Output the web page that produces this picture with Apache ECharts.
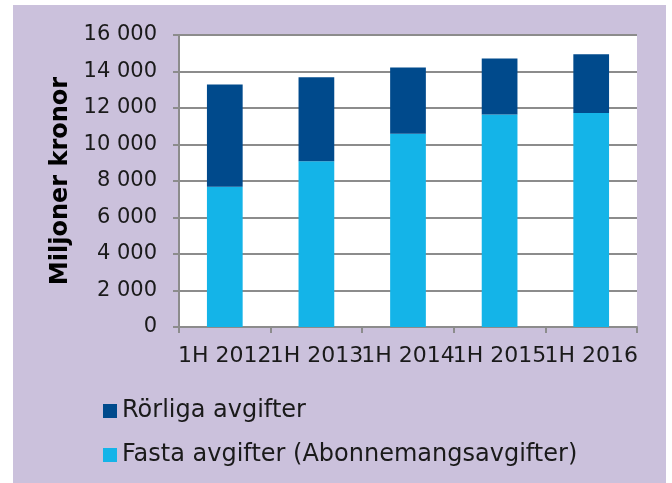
<!DOCTYPE html>
<html>
<head>
<meta charset="utf-8">
<script src="https://cdn.jsdelivr.net/npm/echarts@6/dist/echarts.min.js"></script>
<style>
  body { margin: 0; background: #fff; }
  #bg { position: absolute; left: 13px; top: 5px; width: 653px; height: 478px; background: #cbc1dc; }
  #main { position: absolute; left: 0; top: 0; width: 672px; height: 483px; }
</style>
</head>
<body>
<div id="bg"></div>
<div id="main"></div>
<script>
  var categories = ['1H 2012', '1H 2013', '1H 2014', '1H 2015', '1H 2016'];
  // Fasta avgifter (nedre delen av stapeln)
  var fasta = [7690, 9080, 10590, 11650, 11720];
  // Rörliga avgifter (övre delen)
  var rorliga = [5600, 4610, 3630, 3060, 3220];

  var myChart = echarts.init(document.getElementById('main'));
  var font = '"DejaVu Sans", sans-serif';

  option = {
      backgroundColor: 'transparent',
      animation: false,
      grid: {
          left: 179, right: 35, top: 35, bottom: 156,
          show: true,
          backgroundColor: '#fff',
          borderWidth: 0
      },
      legend: {
          orient: 'vertical',
          left: 98,
          top: 394,
          itemWidth: 14,
          itemHeight: 14,
          itemGap: 20,
          icon: 'rect',
          data: ['Rörliga avgifter', 'Fasta avgifter (Abonnemangsavgifter)'],
          textStyle: { color: '#1a1a1a', fontSize: 24, fontFamily: font, lineHeight: 24 }
      },
      xAxis: {
          type: 'category',
          data: categories,
          axisLine: { lineStyle: { color: '#8c8c8c', width: 2 } },
          axisTick: { show: true, length: 6, lineStyle: { color: '#8c8c8c', width: 2 } },
          axisLabel: { color: '#1a1a1a', fontSize: 22, fontFamily: font, margin: 18, interval: 0 }
      },
      yAxis: {
          type: 'value',
          min: 0, max: 16000, interval: 2000,
          name: 'Miljoner kronor',
          nameLocation: 'middle',
          nameGap: 102,
          nameTextStyle: { color: '#000', fontSize: 24, fontWeight: 'bold', fontFamily: font },
          axisLine: { show: true, lineStyle: { color: '#8c8c8c', width: 2 } },
          axisTick: { show: true, length: 6, lineStyle: { color: '#8c8c8c', width: 2 } },
          splitLine: { lineStyle: { color: '#8c8c8c', width: 2 } },
          axisLabel: {
              color: '#1a1a1a', fontSize: 21, fontFamily: font, margin: 22,
              formatter: function (v) { return String(v).replace(/\B(?=(\d{3})+(?!\d))/g, ' '); }
          }
      },
      series: [
          {
              name: 'Fasta avgifter (Abonnemangsavgifter)',
              type: 'bar',
              stack: 'tot',
              barWidth: '39%',
              data: fasta,
              itemStyle: { color: '#14b4e8' }
          },
          {
              name: 'Rörliga avgifter',
              type: 'bar',
              stack: 'tot',
              data: rorliga,
              itemStyle: { color: '#004a8c' }
          }
      ]
  };
  myChart.setOption(option);
</script>
</body>
</html>
